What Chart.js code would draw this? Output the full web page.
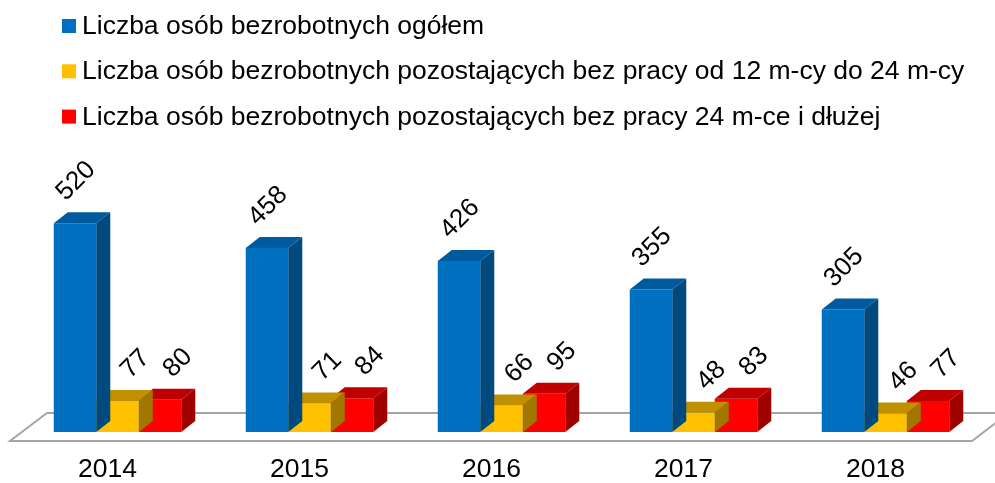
<!DOCTYPE html>
<html>
<head>
<meta charset="utf-8">
<script src="https://cdn.jsdelivr.net/npm/chart.js@4.4.1/dist/chart.umd.min.js"></script>
<style>
  html, body { margin: 0; padding: 0; background: #fff; }
  #wrap { width: 995px; height: 483px; }
</style>
</head>
<body>
<div id="wrap"><canvas id="myChart"></canvas></div>
<script>
const years = ["2014", "2015", "2016", "2017", "2018"];
const seriesNames = [
    "Liczba osób bezrobotnych ogółem",
    "Liczba osób bezrobotnych pozostających bez pracy od 12 m-cy do 24 m-cy",
    "Liczba osób bezrobotnych pozostających bez pracy 24 m-ce i dłużej"
];
const totalValues = [520, 458, 426, 355, 305];
const midTermValues = [77, 71, 66, 48, 46];
const longTermValues = [80, 84, 95, 83, 77];

const frontColors = ["#0070c0", "#ffc000", "#ff0000"];
const topColors = ["#005a9e", "#bf9000", "#c00000"];
const sideColors = ["#004a80", "#a07800", "#a00000"];
const FONT = "'Liberation Sans', Arial, sans-serif";
const DEPTH_X = 14;
const DEPTH_Y = 11;

// floor, drawn under the bars
const floorPlugin = {
    id: "floor",
    beforeDatasetsDraw(chart) {
        const { ctx, chartArea } = chart;
        const b = chartArea.bottom;
        const l = chartArea.left - 11.5;
        const r = chartArea.right - 9.5;
        ctx.save();
        ctx.beginPath();
        ctx.moveTo(l, b + 9);
        ctx.lineTo(r, b + 9);
        ctx.lineTo(r + 37, b - 19);
        ctx.lineTo(l + 37, b - 19);
        ctx.closePath();
        ctx.fillStyle = "#ffffff";
        ctx.fill();
        ctx.lineWidth = 2;
        ctx.strokeStyle = "#a6a6a6";
        ctx.stroke();
        ctx.restore();
    }
};

// top and side faces, one dataset at a time so the next bar hides the side
const boxPlugin = {
    id: "box3d",
    afterDatasetDraw(chart, args) {
        const { ctx } = chart;
        const i = args.index;
        chart.getDatasetMeta(i).data.forEach(bar => {
            const p = bar.getProps(["x", "y", "width", "base"], true);
            const x0 = p.x - p.width / 2;
            const x1 = p.x + p.width / 2;
            ctx.save();
            ctx.beginPath();
            ctx.moveTo(x0, p.y);
            ctx.lineTo(x1, p.y);
            ctx.lineTo(x1 + DEPTH_X, p.y - DEPTH_Y);
            ctx.lineTo(x0 + DEPTH_X, p.y - DEPTH_Y);
            ctx.closePath();
            ctx.fillStyle = topColors[i];
            ctx.fill();
            ctx.beginPath();
            ctx.moveTo(x1, p.y);
            ctx.lineTo(x1 + DEPTH_X, p.y - DEPTH_Y);
            ctx.lineTo(x1 + DEPTH_X, p.base - DEPTH_Y);
            ctx.lineTo(x1, p.base);
            ctx.closePath();
            ctx.fillStyle = sideColors[i];
            ctx.fill();
            ctx.restore();
        });
    }
};

// rotated value labels
const valuePlugin = {
    id: "values",
    afterDatasetsDraw(chart) {
        const { ctx } = chart;
        ctx.save();
        ctx.font = "26px " + FONT;
        ctx.fillStyle = "#000";
        ctx.textAlign = "center";
        ctx.textBaseline = "middle";
        chart.data.datasets.forEach((ds, i) => {
            chart.getDatasetMeta(i).data.forEach((bar, j) => {
                const dx = i === 0 ? 1 : 18;
                const dy = i === 0 ? -42 : -37;
                ctx.save();
                ctx.translate(bar.x + dx, bar.y + dy);
                ctx.rotate(-Math.PI / 4);
                ctx.fillText(String(ds.data[j]), 0, 0);
                ctx.restore();
            });
        });
        ctx.restore();
    }
};

// legend rows in the top left
const legendPlugin = {
    id: "legendRows",
    afterDraw(chart) {
        const { ctx } = chart;
        ctx.save();
        ctx.font = "26.5px " + FONT;
        ctx.textBaseline = "alphabetic";
        chart.data.datasets.forEach((ds, i) => {
            const cy = 26 + i * 45.3;
            ctx.fillStyle = ds.backgroundColor;
            ctx.fillRect(62, cy - 7, 14, 14);
            ctx.fillStyle = "#000";
            ctx.fillText(ds.label, 82, cy + 8);
        });
        ctx.restore();
    }
};

new Chart("myChart", {
    type: "bar",
    data: {
        labels: years,
        datasets: [
            { label: seriesNames[0], data: totalValues, backgroundColor: frontColors[0] },
            { label: seriesNames[1], data: midTermValues, backgroundColor: frontColors[1] },
            { label: seriesNames[2], data: longTermValues, backgroundColor: frontColors[2] }
        ]
    },
    options: {
        responsive: true,
        maintainAspectRatio: false,
        animation: false,
        layout: { padding: { top: 191, left: 21.5, right: 13.5, bottom: 0 } },
        datasets: {
            bar: { categoryPercentage: 0.664, barPercentage: 1, borderWidth: 0 }
        },
        plugins: {
            legend: { display: false },
            tooltip: { enabled: false }
        },
        scales: {
            x: {
                grid: { display: false, drawTicks: false },
                border: { display: false },
                ticks: {
                    color: "#000",
                    padding: 22,
                    labelOffset: -10,
                    font: { family: FONT, size: 26.5 }
                },
                afterFit(scale) {
                    scale.height = 51;
                }
            },
            y: {
                display: false,
                min: 0,
                max: 600
            }
        }
    },
    plugins: [floorPlugin, boxPlugin, valuePlugin, legendPlugin]
});
</script>
</body>
</html>
